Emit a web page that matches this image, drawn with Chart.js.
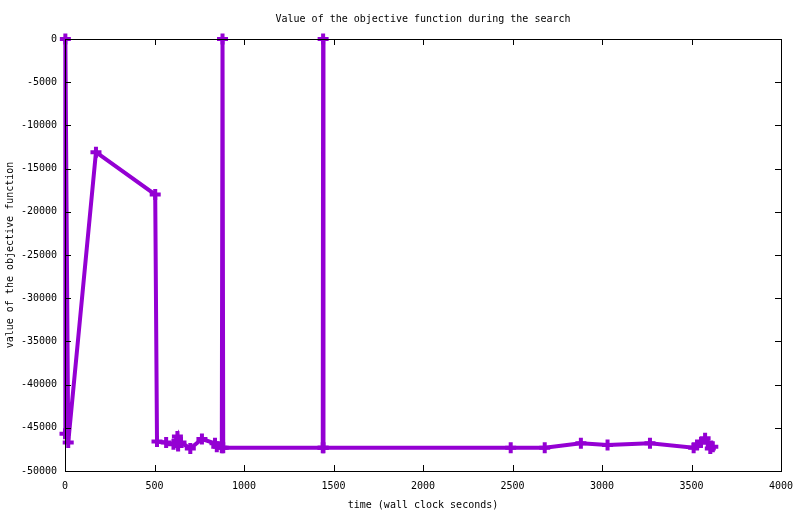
<!DOCTYPE html>
<html>
<head>
<meta charset="utf-8">
<script src="https://cdn.jsdelivr.net/npm/chart.js@4"></script>
<style>
  body { margin: 0; background: #fff; }
</style>
</head>
<body>
<canvas id="myChart" width="800" height="514"></canvas>
<script>
// time (s) and objective value, in plotting order
var times = [0, 2, 18, 173, 504, 514, 565, 606, 628, 632, 648, 700, 765, 838, 848, 876, 880, 884,
             1440, 1442, 1444, 2490, 2680, 2882, 3031, 3268, 3512, 3531, 3553, 3576, 3591, 3605, 3619];
var values = [-45700, 0, -46700, -13100, -18000, -46600, -46700, -46900, -46000, -47100, -46700, -47400, -46300, -46800, -47200, -47300, 0, -47300,
              -47300, 0, -47300, -47300, -47300, -46800, -47000, -46800, -47300, -47000, -46700, -46200, -46700, -47400, -47200];

var points = times.map(function (t, i) { return { x: t, y: values[i] }; });

var monoFont = "DejaVu Sans Mono";

// gnuplot-like frame: inward ticks on all four sides + titles
var gnuplotFrame = {
    id: "gnuplotFrame",
    afterDraw: function (chart) {
        var ctx = chart.ctx;
        var a = chart.chartArea;
        var xs = chart.scales.x, ys = chart.scales.y;
        var len = 6;
        ctx.save();
        ctx.strokeStyle = "#000";
        ctx.lineWidth = 1;
        ctx.beginPath();
        xs.ticks.forEach(function (t) {
            var px = Math.round(xs.getPixelForValue(t.value)) + 0.5;
            ctx.moveTo(px, a.bottom); ctx.lineTo(px, a.bottom - len);
            ctx.moveTo(px, a.top); ctx.lineTo(px, a.top + len);
        });
        ys.ticks.forEach(function (t) {
            var py = Math.round(ys.getPixelForValue(t.value)) + 0.5;
            ctx.moveTo(a.left, py); ctx.lineTo(a.left + len, py);
            ctx.moveTo(a.right, py); ctx.lineTo(a.right - len, py);
        });
        ctx.stroke();
        ctx.strokeRect(Math.round(a.left) + 0.5, Math.round(a.top) + 0.5,
                       Math.round(a.right - a.left), Math.round(a.bottom - a.top));

        ctx.fillStyle = "#000";
        ctx.font = "10px '" + monoFont + "'";
        ctx.textAlign = "center";
        ctx.textBaseline = "middle";
        var cx = (a.left + a.right) / 2;
        ctx.fillText("Value of the objective function during the search", cx, 19);
        ctx.fillText("time (wall clock seconds)", cx, 505);
        ctx.translate(10, (a.top + a.bottom) / 2);
        ctx.rotate(-Math.PI / 2);
        ctx.fillText("value of the objective function", 0, 0);
        ctx.restore();
    }
};

function plainNumber(value) { return String(value); }

new Chart("myChart", {
    type: "line",
    data: {
        datasets: [{
            data: points,
            borderColor: "#9400d3",
            backgroundColor: "#9400d3",
            borderWidth: 4,
            pointStyle: "cross",
            pointRadius: 5.5,
            pointBorderWidth: 4,
            pointHoverRadius: 5.5,
            tension: 0,
            fill: false,
            clip: false
        }]
    },
    options: {
        responsive: false,
        animation: false,
        events: [],
        layout: { padding: { top: 39, right: 19, left: 0, bottom: 0 } },
        plugins: {
            legend: { display: false },
            title: { display: false },
            tooltip: { enabled: false }
        },
        scales: {
            x: {
                type: "linear",
                min: 0,
                max: 4000,
                border: { display: false },
                grid: { display: false, drawTicks: false },
                ticks: {
                    stepSize: 500,
                    padding: 9,
                    maxRotation: 0,
                    color: "#000",
                    font: { family: monoFont, size: 10 },
                    callback: plainNumber
                },
                afterFit: function (scale) {
                    scale.height = 43;
                    scale.paddingLeft = 0;
                    scale.paddingRight = 0;
                }
            },
            y: {
                min: -50000,
                max: 0,
                border: { display: false },
                grid: { display: false, drawTicks: false },
                ticks: {
                    stepSize: 5000,
                    padding: 8,
                    color: "#000",
                    font: { family: monoFont, size: 10 },
                    callback: plainNumber
                },
                afterFit: function (scale) {
                    scale.width = 65;
                    scale.paddingTop = 0;
                    scale.paddingBottom = 0;
                }
            }
        }
    },
    plugins: [gnuplotFrame]
});
</script>
</body>
</html>
